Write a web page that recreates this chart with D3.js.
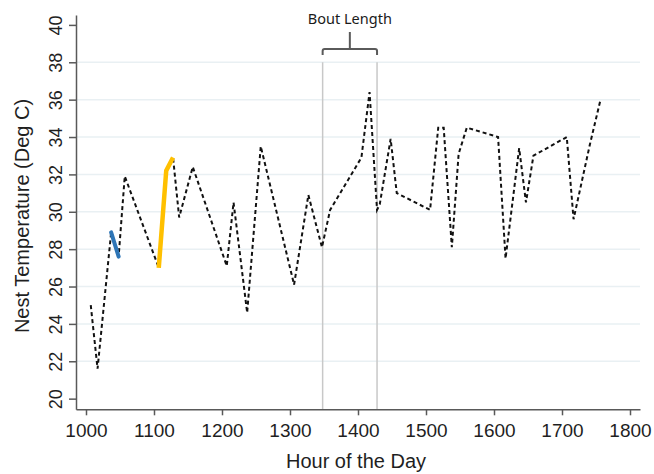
<!DOCTYPE html>
<html>
<head>
<meta charset="utf-8">
<script src="https://cdn.jsdelivr.net/npm/d3@7"></script>
<style>
  body { margin: 0; background: #fff; }
  #chart text { font-family: "Liberation Sans", Arial, sans-serif; }
  .tick text { fill: #1f1f1f; }
  .axis path, .axis line { stroke: #595959; stroke-width: 1.5; }
</style>
</head>
<body>
<div id="wrapper"></div>
<script>
// nest temperature readings (hour of day, deg C)
var hours = [1007, 1017, 1037, 1048, 1057, 1107, 1118, 1128, 1137, 1157,
             1207, 1217, 1237, 1257, 1306, 1327, 1347, 1359, 1405, 1417,
             1428, 1432, 1448, 1457, 1506, 1518, 1526, 1538, 1548, 1560,
             1606, 1617, 1637, 1647, 1658, 1707, 1717, 1741, 1756];
var temps = [25.0, 21.6, 28.9, 27.6, 31.9, 27.0, 32.2, 32.9, 29.7, 32.4,
             27.1, 30.5, 24.6, 33.5, 26.1, 30.9, 28.1, 30.1, 32.9, 36.4,
             30.1, 30.4, 33.9, 31.0, 30.1, 34.5, 34.5, 28.1, 33.1, 34.5,
             34.0, 27.5, 33.4, 30.5, 33.0, 34.0, 29.6, 33.6, 35.9];

// highlighted segments
var cool_hours = [1037, 1048];
var cool_temps = [28.9, 27.6];
var warm_hours = [1107, 1118, 1128];
var warm_temps = [27.0, 32.2, 32.9];

// bout boundaries
var bout_start = 1348;
var bout_end = 1428;

var x_ticks = [1000, 1100, 1200, 1300, 1400, 1500, 1600, 1700, 1800];
var y_ticks = [20, 22, 24, 26, 28, 30, 32, 34, 36, 38, 40];
var grid_values = [22, 24, 26, 28, 30, 32, 34, 36, 38];

var WIDTH = 654, HEIGHT = 474;
var LEFT = 76, RIGHT = 640, TOP = 15, BOTTOM = 409.3;

var svg = d3.select('#wrapper').append('svg')
    .attr('id', 'chart')
    .attr('width', WIDTH)
    .attr('height', HEIGHT);

var scale_x = d3.scaleLinear()
    .domain([985.3, 1814.7])
    .range([LEFT, RIGHT]);
var scale_y = d3.scaleLinear()
    .domain([19.43, 40.53])
    .range([BOTTOM, TOP]);

function zip(xs, ys) {
    return xs.map(function(x, i) { return {x: x, y: ys[i]}; });
}

// gridlines
svg.append('g').selectAll('line')
    .data(grid_values)
    .enter().append('line')
    .attr('x1', LEFT)
    .attr('x2', RIGHT)
    .attr('y1', function(d) { return scale_y(d); })
    .attr('y2', function(d) { return scale_y(d); })
    .attr('stroke', '#e9f0f3')
    .attr('stroke-width', 1.5);

// bout markers
svg.append('g').selectAll('line')
    .data([bout_start, bout_end])
    .enter().append('line')
    .attr('x1', function(d) { return scale_x(d); })
    .attr('x2', function(d) { return scale_x(d); })
    .attr('y1', scale_y(38))
    .attr('y2', BOTTOM)
    .attr('stroke', '#c8c8c8')
    .attr('stroke-width', 1.5);

// bracket over the bout
var bx0 = scale_x(bout_start), bx1 = scale_x(bout_end);
var bmid = (bx0 + bx1) / 2, by = 49;
var bracket = svg.append('g').attr('fill', 'none')
    .attr('stroke', '#5a5a5a').attr('stroke-width', 2);
bracket.append('path')
    .attr('d', 'M' + bx0 + ',' + (by + 6) + ' L' + bx0 + ',' + (by + 2) +
          ' Q' + bx0 + ',' + by + ' ' + (bx0 + 2) + ',' + by +
          ' L' + (bx1 - 2) + ',' + by +
          ' Q' + bx1 + ',' + by + ' ' + bx1 + ',' + (by + 2) +
          ' L' + bx1 + ',' + (by + 6));
bracket.append('line')
    .attr('x1', bmid).attr('x2', bmid)
    .attr('y1', by).attr('y2', 32);
svg.append('text')
    .attr('x', bmid)
    .attr('y', 24)
    .attr('text-anchor', 'middle')
    .style('font-family', '"Noto Sans", "Open Sans", sans-serif')
    .style('font-size', '14.5px')
    .attr('fill', '#1a1a1a')
    .text('Bout Length');

// axes
var axis_x = d3.axisBottom(scale_x)
    .tickValues(x_ticks)
    .tickFormat(d3.format('d'))
    .tickSizeInner(6)
    .tickSizeOuter(0)
    .tickPadding(8);
var axis_y = d3.axisLeft(scale_y)
    .tickValues(y_ticks)
    .tickFormat(d3.format('d'))
    .tickSizeInner(7)
    .tickSizeOuter(0);

svg.append('g')
    .attr('class', 'axis')
    .attr('transform', 'translate(0,' + BOTTOM + ')')
    .call(axis_x)
    .selectAll('text')
    .style('font-size', '19px');

var gy = svg.append('g')
    .attr('class', 'axis')
    .attr('transform', 'translate(' + LEFT + ',0)')
    .call(axis_y);
gy.selectAll('.tick text')
    .attr('x', null)
    .attr('dy', null)
    .attr('text-anchor', 'middle')
    .attr('transform', 'translate(-14,0) rotate(-90)')
    .style('font-size', '18px');

// axis titles
svg.append('text')
    .attr('x', (LEFT + RIGHT) / 2 - 2)
    .attr('y', 468)
    .attr('text-anchor', 'middle')
    .style('font-size', '20px')
    .attr('fill', '#1f1f1f')
    .text('Hour of the Day');
svg.append('text')
    .attr('transform', 'translate(29,' + 216 + ') rotate(-90)')
    .attr('text-anchor', 'middle')
    .style('font-size', '20px')
    .attr('fill', '#1f1f1f')
    .text('Nest Temperature (Deg C)');

// temperature trace
var line = d3.line()
    .x(function(d) { return scale_x(d.x); })
    .y(function(d) { return scale_y(d.y); });

svg.append('path')
    .datum(zip(hours, temps))
    .attr('d', line)
    .attr('fill', 'none')
    .attr('stroke', '#111')
    .attr('stroke-width', 2)
    .attr('stroke-dasharray', '4,3');

svg.append('path')
    .datum(zip(cool_hours, cool_temps))
    .attr('d', line)
    .attr('fill', 'none')
    .attr('stroke', '#2e75b6')
    .attr('stroke-width', 4)
    .attr('stroke-linecap', 'round');

svg.append('path')
    .datum(zip(warm_hours, warm_temps))
    .attr('d', line)
    .attr('fill', 'none')
    .attr('stroke', '#ffc000')
    .attr('stroke-width', 4.5)
    .attr('stroke-linecap', 'butt');
</script>
</body>
</html>
